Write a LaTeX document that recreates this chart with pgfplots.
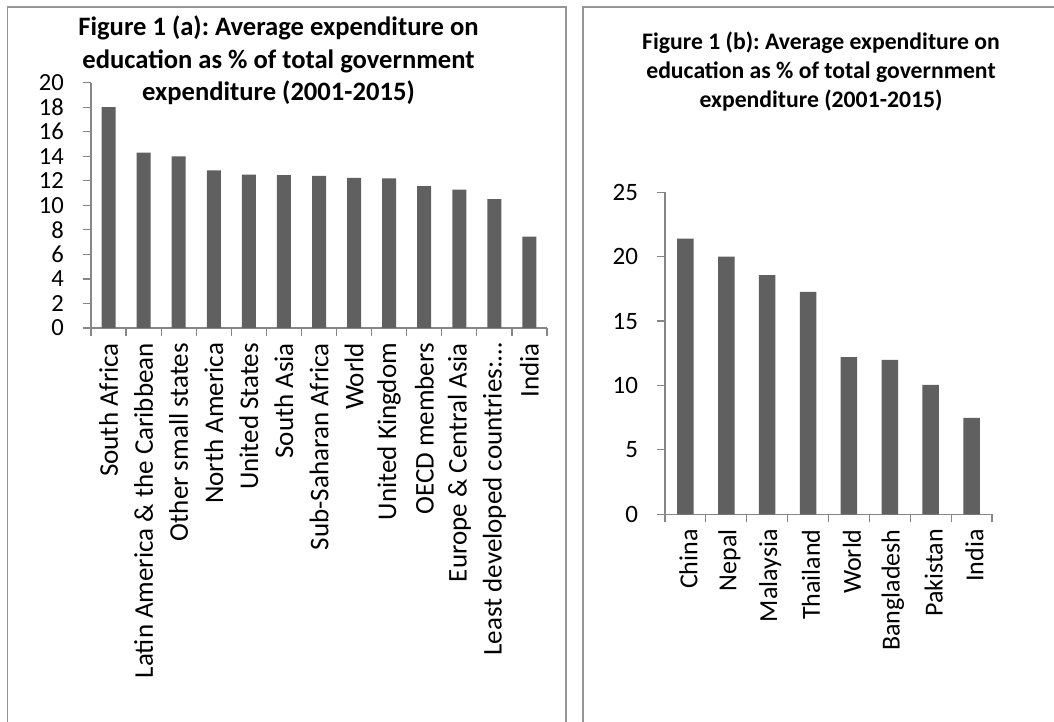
\documentclass[border=0pt]{standalone}
\usepackage{pgfplots}
\pgfplotsset{compat=1.18}
\usepackage{fontspec}
\setmainfont{Carlito}
\frenchspacing
\definecolor{barc}{RGB}{96,96,96}
\definecolor{axc}{RGB}{134,134,134}
\definecolor{boxc}{RGB}{150,150,150}
\pgfplotsset{
  myaxis/.style={
    scale only axis,
    anchor=south west,
    axis x line=bottom, axis y line=left,
    axis line style={-, axc, line width=0.6pt},
    ybar, ymin=0,
    tick align=outside,
    major tick length=4pt,
    minor tick length=4pt,
    major x tick style={draw=none},
    minor x tick style={axc, line width=0.6pt},
    y tick style={axc, line width=0.6pt},
    /pgf/number format/assume math mode=true,
    yticklabel style={xshift=-6pt},
    xticklabel style={rotate=90, anchor=east},
    clip=false,
  }
}
\begin{document}
\begin{tikzpicture}
\useasboundingbox (0,0) rectangle (527pt,361pt);
% panel borders
\draw[boxc, line width=0.7pt] (3.75pt,-5pt) -- (3.75pt,357.5pt) -- (283pt,357.5pt) -- (283pt,-5pt);
\draw[boxc, line width=0.7pt] (291.5pt,-5pt) -- (291.5pt,357.5pt) -- (540pt,357.5pt);
% titles
\node[anchor=base, font=\bfseries\fontsize{13.3}{16}\selectfont] at (139.25pt,343pt) {Figure 1 (a): Average expenditure on};
\node[anchor=base, font=\bfseries\fontsize{13.3}{16}\selectfont] at (139.25pt,326.75pt) {education as \% of total government};
\node[anchor=base, font=\bfseries\fontsize{13.3}{16}\selectfont] at (139.25pt,310.5pt) {expenditure (2001-2015)};
\node[anchor=base, font=\bfseries\fontsize{11.85}{14}\selectfont] at (410.5pt,336pt) {Figure 1 (b): Average expenditure on};
\node[anchor=base, font=\bfseries\fontsize{11.85}{14}\selectfont] at (410.5pt,321.5pt) {education as \% of total government};
\node[anchor=base, font=\bfseries\fontsize{11.85}{14}\selectfont] at (410.5pt,307.25pt) {expenditure (2001-2015)};

\begin{axis}[myaxis,
  at={(45.5pt,197pt)}, width=228pt, height=122.65pt,
  xmin=-0.5, xmax=12.5, ymax=20,
  bar width=7pt,
  ytick={0,2,...,20},
  xtick={0,...,12},
  minor xtick={-0.5,0.5,...,12.5},
  yticklabel style={font=\fontsize{12.3}{14}\selectfont},
  xticklabel style={font=\fontsize{13.5}{16}\selectfont},
  xticklabels={South Africa,Latin America \& the Caribbean,Other small states,North America,United States,South Asia,Sub-Saharan Africa,World,United Kingdom,OECD members,Europe \& Central Asia,Least developed countries:\ldots,India},
]
\addplot[fill=barc, draw=none] coordinates {
(0,18.0) (1,14.3) (2,14.0) (3,12.85) (4,12.5) (5,12.47) (6,12.4) (7,12.25) (8,12.2) (9,11.57) (10,11.28) (11,10.5) (12,7.45)
};
\end{axis}

\begin{axis}[myaxis,
  at={(332.5pt,103.85pt)}, width=163.5pt, height=161pt,
  xmin=-0.5, xmax=7.5, ymax=25,
  bar width=8.25pt,
  ytick={0,5,...,25},
  xtick={0,...,7},
  minor xtick={-0.5,0.5,...,7.5},
  yticklabel style={font=\fontsize{12.5}{15}\selectfont},
  xticklabel style={font=\fontsize{13}{15}\selectfont, yshift=-1.5pt},
  xticklabels={China,Nepal,Malaysia,Thailand,World,Bangladesh,Pakistan,India},
]
\addplot[fill=barc, draw=none] coordinates {
(0,21.41) (1,20.0) (2,18.57) (3,17.27) (4,12.2) (5,11.99) (6,10.05) (7,7.48)
};
\end{axis}
\end{tikzpicture}
\end{document}
